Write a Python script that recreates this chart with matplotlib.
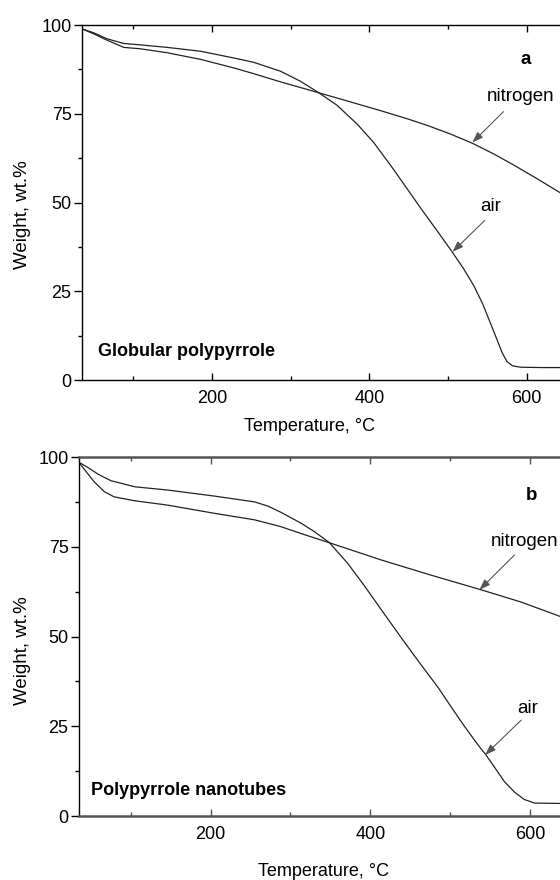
"""TGA curves of polypyrrole: globular (a) and nanotubes (b), in air and nitrogen."""
import matplotlib
matplotlib.use("Agg")
import matplotlib.pyplot as plt
from matplotlib.ticker import MultipleLocator

plt.rcParams.update({
    "font.family": ["Liberation Sans", "DejaVu Sans"],
    "font.size": 13,
    "xtick.labelsize": 13,
    "ytick.labelsize": 13,
})

# ---- panel a: globular polypyrrole ----
a_air_t = [35, 50, 67, 88, 109, 143, 186, 228, 253, 287, 313, 336, 359,
           385, 406, 428, 449, 466, 487, 505, 520, 533, 544, 554, 563,
           569, 575, 582, 592, 620, 643]
a_air_w = [98.9, 97.8, 96.1, 94.8, 94.4, 93.7, 92.6, 90.7, 89.5, 87.0,
           84.1, 80.9, 77.4, 72.0, 66.8, 60.2, 53.6, 48.2, 41.8, 36.2,
           31.3, 26.5, 21.5, 16.0, 11.0, 7.6, 5.2, 4.0, 3.6, 3.5, 3.5]
a_n2_t = [35, 50, 67, 88, 109, 143, 186, 228, 253, 287, 336, 372, 414,
          448, 474, 503, 531, 558, 584, 614, 643]
a_n2_w = [98.9, 97.5, 95.7, 93.7, 93.3, 92.2, 90.3, 87.9, 86.3, 84.0,
          80.9, 78.6, 75.9, 73.6, 71.7, 69.3, 66.7, 63.7, 60.5, 56.6, 52.7]

# ---- panel b: polypyrrole nanotubes ----
b_air_t = [36, 46, 59, 75, 105, 146, 205, 255, 272, 288, 313, 330, 349,
           372, 393, 414, 439, 462, 485, 501, 518, 535, 545, 556, 568,
           581, 593, 606, 639]
b_air_w = [98.4, 97.1, 95.2, 93.4, 91.7, 90.8, 89.1, 87.5, 86.3, 84.6,
           81.6, 79.2, 76.1, 70.3, 64.0, 57.4, 49.6, 42.6, 35.8, 30.5,
           25.0, 19.8, 17.0, 13.5, 9.6, 6.6, 4.6, 3.6, 3.5]
b_n2_t = [36, 44, 54, 67, 79, 105, 146, 205, 255, 288, 313, 349, 414,
          476, 539, 589, 639]
b_n2_w = [98.2, 95.9, 93.1, 90.3, 88.9, 87.8, 86.6, 84.3, 82.5, 80.6,
          78.7, 76.1, 71.3, 67.1, 63.0, 59.6, 55.5]

fig = plt.figure(figsize=(5.6, 8.8), dpi=100)


def panel(left_px, top_px, bottom_px, px_per_deg, spine_color, spine_lw,
          air, n2, letter, sample, ann, xlabel_pos, ylabel_pos):
    width_px = 560 - left_px
    ax = fig.add_axes([left_px / 560, 1 - bottom_px / 880,
                       width_px / 560, (bottom_px - top_px) / 880])
    ax.plot(air[0], air[1], color="#222222", lw=0.9)
    ax.plot(n2[0], n2[1], color="#222222", lw=0.9)
    ax.set_xlim(35, 35 + width_px / px_per_deg)
    ax.set_ylim(0, 100)
    ax.xaxis.set_major_locator(MultipleLocator(200))
    ax.xaxis.set_minor_locator(MultipleLocator(100))
    ax.yaxis.set_major_locator(MultipleLocator(25))
    ax.yaxis.set_minor_locator(MultipleLocator(12.5))
    ax.tick_params(axis="x", which="both", direction="in", top=True,
                   pad=7, color=spine_color)
    ax.tick_params(axis="x", which="major", length=5, width=1)
    ax.tick_params(axis="x", which="minor", length=3, width=1)
    ax.tick_params(axis="y", which="major", direction="out", length=5.5,
                   width=1, pad=2)
    ax.tick_params(axis="y", which="minor", direction="out", length=3,
                   width=1)
    ax.spines["right"].set_visible(False)
    for side in ("top", "bottom"):
        ax.spines[side].set_color(spine_color)
        ax.spines[side].set_linewidth(spine_lw)
    ax.spines["left"].set_linewidth(1.0)
    ax.set_xlabel("Temperature, °C")
    ax.xaxis.set_label_coords(*xlabel_pos)
    ax.set_ylabel("Weight, wt.%", fontsize=13.5)
    ax.yaxis.set_label_coords(*ylabel_pos)

    ax.text(letter[0], letter[1], letter[2], fontweight="bold",
            ha="center", va="center", fontsize=13.5)
    ax.text(sample[0], sample[1], sample[2], fontweight="bold",
            ha="left", va="center", fontsize=13)
    for label, tx, ty, t0, w0, t1, w1 in ann:
        ax.text(tx, ty, label, ha="center", va="center", fontsize=13.5)
        ax.annotate("", xy=(t1, w1), xytext=(t0, w0),
                    arrowprops=dict(arrowstyle="-|>,head_length=0.5,head_width=0.18",
                                    color="#555555", lw=0.8,
                                    shrinkA=0, shrinkB=0))
    return ax


panel(82, 25, 380, 0.787, "black", 1.0,
      (a_air_t, a_air_w), (a_n2_t, a_n2_w),
      (599, 90.3, "a"), (55, 7.9, "Globular polypyrrole"),
      [("nitrogen", 592, 79.8, 570.6, 75.6, 531, 66.9),
       ("air", 554, 48.8, 546.5, 44.9, 505.8, 36.1)],
      ((309 - 82) / 478, -0.107), (-0.107, 0.465))

panel(79, 457, 816, 0.798, "#555555", 1.8,
      (b_air_t, b_air_w), (b_n2_t, b_n2_w),
      (602, 89.4, "b"), (50, 7.2, "Polypyrrole nanotubes"),
      [("nitrogen", 593, 76.4, 580.7, 72.7, 536.8, 63.0),
       ("air", 597, 30.0, 589.1, 26.7, 543.9, 17.0)],
      ((324 - 79) / 481, -0.131), (-0.10, 0.46))

fig.savefig("out.png", dpi=100)
